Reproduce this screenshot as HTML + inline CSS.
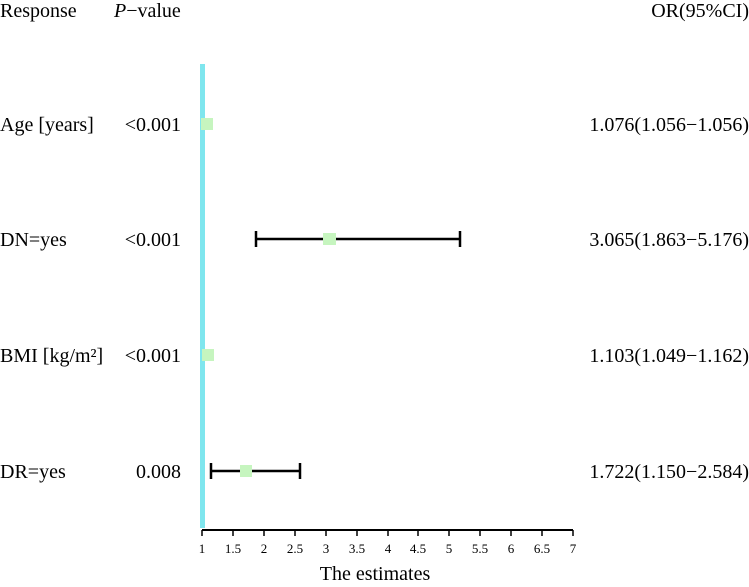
<!DOCTYPE html>
<html><head><style>body{margin:0;background:#fff}</style></head><body>
<svg width="749" height="582" xmlns="http://www.w3.org/2000/svg" font-family="Liberation Serif, serif" font-size="20" fill="#000">
<text x="0" y="17">Response</text>
<text x="114" y="17"><tspan font-style="italic">P</tspan>−value</text>
<text x="749" y="17" text-anchor="end">OR(95%CI)</text>
<rect x="200" y="64" width="5" height="464" fill="#7fe6ee"/>
<g>
<text x="0" y="131">Age [years]</text><text x="181" y="131" text-anchor="end">&lt;0.001</text><text x="749" y="131" text-anchor="end">1.076(1.056−1.056)</text>
<text x="0" y="246">DN=yes</text><text x="181" y="246" text-anchor="end">&lt;0.001</text><text x="749" y="246" text-anchor="end">3.065(1.863−5.176)</text>
<text x="0" y="362">BMI [kg/m²]</text><text x="181" y="362" text-anchor="end">&lt;0.001</text><text x="749" y="362" text-anchor="end">1.103(1.049−1.162)</text>
<text x="0" y="478">DR=yes</text><text x="181" y="478" text-anchor="end">0.008</text><text x="749" y="478" text-anchor="end">1.722(1.150−2.584)</text>
</g>
<g stroke="#000" stroke-width="2.5">
<line x1="256" y1="239" x2="460" y2="239"/><line x1="256" y1="231" x2="256" y2="247"/><line x1="460" y1="231" x2="460" y2="247"/>
<line x1="211" y1="471" x2="300" y2="471"/><line x1="211" y1="463" x2="211" y2="479"/><line x1="300" y1="463" x2="300" y2="479"/>
</g>
<g fill="#c6f5bf">
<rect x="201" y="118" width="12" height="12"/>
<rect x="323" y="233" width="13" height="12"/>
<rect x="202" y="349" width="12" height="12"/>
<rect x="240" y="465" width="12" height="12"/>
</g>
<line x1="202" y1="530" x2="573" y2="530" stroke="#000" stroke-width="2"/>
<g stroke="#000" stroke-width="1.5">
<line x1="202" y1="530" x2="202" y2="536"/><line x1="233" y1="530" x2="233" y2="536"/><line x1="264" y1="530" x2="264" y2="536"/><line x1="295" y1="530" x2="295" y2="536"/><line x1="326" y1="530" x2="326" y2="536"/><line x1="357" y1="530" x2="357" y2="536"/><line x1="388" y1="530" x2="388" y2="536"/><line x1="418" y1="530" x2="418" y2="536"/><line x1="449" y1="530" x2="449" y2="536"/><line x1="480" y1="530" x2="480" y2="536"/><line x1="511" y1="530" x2="511" y2="536"/><line x1="542" y1="530" x2="542" y2="536"/><line x1="573" y1="530" x2="573" y2="536"/>
</g>
<g font-size="13" text-anchor="middle">
<text x="202" y="553">1</text><text x="233" y="553">1.5</text><text x="264" y="553">2</text><text x="295" y="553">2.5</text><text x="326" y="553">3</text><text x="357" y="553">3.5</text><text x="388" y="553">4</text><text x="418" y="553">4.5</text><text x="449" y="553">5</text><text x="480" y="553">5.5</text><text x="511" y="553">6</text><text x="542" y="553">6.5</text><text x="573" y="553">7</text>
</g>
<text x="375" y="580" text-anchor="middle">The estimates</text>
</svg>
</body></html>
